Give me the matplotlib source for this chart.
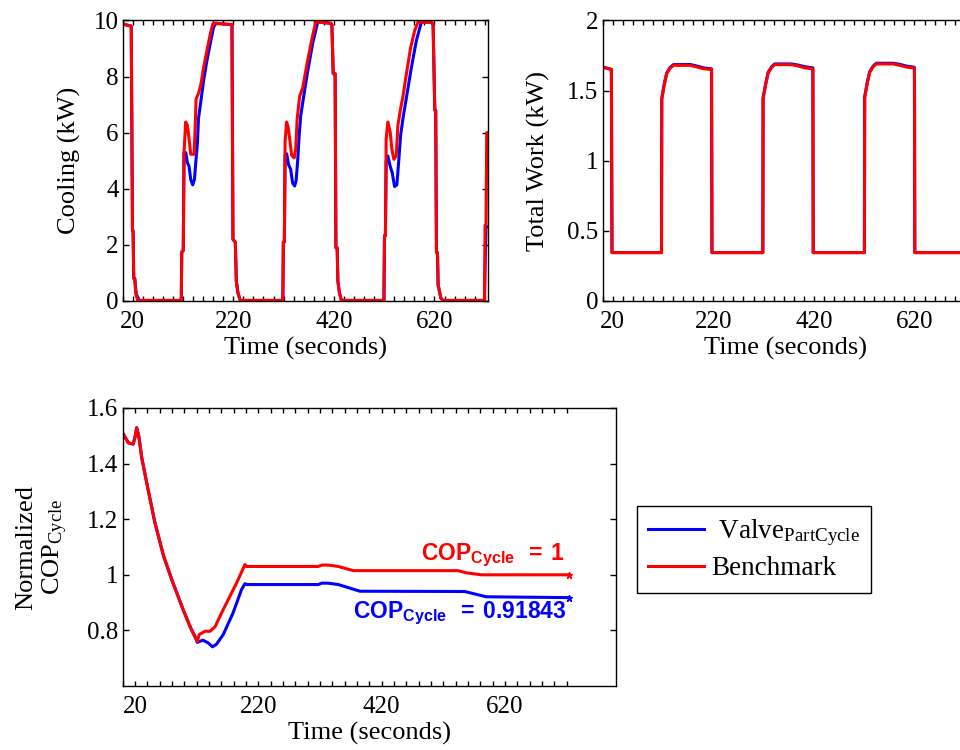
"""Cycling test: cooling, compressor work and normalized cycle COP."""

import matplotlib

matplotlib.use("Agg")
import matplotlib.pyplot as plt
from matplotlib.ticker import FixedLocator
from matplotlib.lines import Line2D

plt.rcParams["font.family"] = ["Liberation Serif", "DejaVu Serif"]
plt.rcParams["mathtext.fontset"] = "custom"
plt.rcParams["mathtext.rm"] = "Liberation Serif"
plt.rcParams["mathtext.it"] = "Liberation Serif:italic"
plt.rcParams["mathtext.bf"] = "Liberation Sans:bold"

BLUE = "#0000ff"
RED = "#ff0000"

# ---- cooling (kW), benchmark ----
cool_red_t = [0, 5, 17, 19.5, 20.7, 22, 24, 26, 30,
              116.5, 117.5, 120.5, 122, 125.3, 128.7, 132, 135.3, 142, 144, 146, 150.7, 155.3,
              160.7, 167.3, 174, 179.3, 184, 217.3, 219.3, 224, 226, 229.3, 234,
              318.5, 319.5, 321.5, 323, 326, 329, 332, 336, 341, 344, 347, 352, 358, 367, 377,
              384, 414, 416, 418.7, 422.5, 424, 426.5, 428, 431, 435,
              519.5, 520.7, 522.5, 524, 527.3, 532, 535.3, 539.3, 544, 547.3, 552.7, 557.3, 564,
              572.7, 580.7, 587.3, 614, 617.3, 620.7, 622.5, 624, 626, 627.3, 632.7, 637.3,
              719.5, 720.7, 722.5, 724, 727]
cool_red = [9.9, 9.85, 9.8, 2.5, 2.5, 0.8, 0.8, 0.25, 0.02,
            0.02, 1.75, 1.8, 5.3, 6.38, 6.26, 5.78, 5.23, 5.23, 6.1, 7.2, 7.4, 7.7,
            8.3, 8.9, 9.5, 9.88, 9.9, 9.85, 2.2, 2.1, 0.7, 0.28, 0.02,
            0.02, 2.1, 2.1, 5.7, 6.38, 6.2, 5.8, 5.2, 5.1, 5.4, 6.5, 7.3, 7.6, 8.5, 9.4,
            9.95, 9.9, 9.85, 8.1, 8.1, 1.9, 1.9, 0.7, 0.3, 0.02,
            0.02, 2.33, 2.33, 5.78, 6.38, 6.02, 5.41, 5.05, 5.17, 6.26, 6.86, 7.28, 8.07,
            9.04, 9.64, 9.94, 9.94, 9.85, 6.8, 6.8, 1.73, 1.73, 0.58, 0.1, 0.02,
            0.02, 2.7, 2.7, 6.0, 6.0]

# ---- cooling (kW), part-cycle valve ----
cool_blue_t = [0, 5, 17, 19.5, 20.7, 22, 24, 27, 33,
               116.5, 117.5, 120.5, 122, 125.3, 128.7, 132, 135.3, 139.3, 142.7, 145.3, 148.7,
               150.7, 155.3, 160.7, 167.3, 174, 180.7, 186, 217.3, 219.3, 224, 226, 229.3, 234,
               318.5, 319.5, 321.5, 323, 326, 330, 334, 338, 342, 345, 348, 351, 354, 360, 368,
               378, 388, 414, 416, 418.7, 422.5, 424, 426.5, 428, 431, 435,
               519.5, 520.7, 522.5, 524, 527.3, 532, 536, 540.7, 545.3, 548.7, 552.7, 557.3, 564,
               574, 584, 594, 614, 617.3, 620.7, 622.5, 624, 626, 627.3, 632.7, 637.3,
               719.5, 720.7, 722.5, 727]
cool_blue = [9.9, 9.85, 9.8, 2.5, 2.5, 0.8, 0.8, 0.25, 0.02,
             0.02, 1.75, 1.8, 5.29, 5.29, 4.93, 4.8, 4.33, 4.14, 4.33, 4.93, 5.65,
             6.5, 7.1, 7.83, 8.55, 9.16, 9.76, 9.9, 9.85, 2.2, 2.1, 0.7, 0.28, 0.02,
             0.02, 2.1, 2.1, 5.2, 5.25, 4.85, 4.7, 4.2, 4.1, 4.3, 5.0, 5.9, 6.6, 7.3, 8.2,
             9.2, 9.95, 9.9, 9.85, 8.1, 8.1, 1.9, 1.9, 0.7, 0.3, 0.02,
             0.02, 2.33, 2.33, 5.0, 5.17, 4.8, 4.57, 4.08, 4.14, 4.93, 5.9, 6.5, 7.22,
             8.31, 9.28, 9.94, 9.94, 9.85, 6.8, 6.8, 1.73, 1.73, 0.58, 0.1, 0.02,
             0.02, 1.2, 2.65, 2.65]

# ---- total work (kW) ----
work_t = [0, 17.3, 18.5, 117, 117.5, 122, 127.3, 134, 140.7, 174, 187.3, 200.7, 216.5, 217.3,
          318.5, 319, 324, 329, 336, 342, 376, 389, 402, 418, 418.7,
          520.5, 521, 526, 531, 538, 544, 578, 591, 604, 620, 620.7, 727]
work_red = [1.668, 1.651, 0.345, 0.345, 1.44, 1.535, 1.62, 1.66, 1.68, 1.68, 1.668, 1.656,
            1.65, 0.345, 0.345, 1.44, 1.54, 1.625, 1.665, 1.685, 1.685, 1.675, 1.662, 1.655,
            0.345, 0.345, 1.45, 1.55, 1.63, 1.67, 1.69, 1.69, 1.68, 1.668, 1.66, 0.345, 0.345]
work_blue = [1.668, 1.651, 0.345, 0.345, 1.44, 1.54, 1.625, 1.665, 1.685, 1.686, 1.675, 1.662,
             1.655, 0.345, 0.345, 1.45, 1.548, 1.63, 1.67, 1.69, 1.69, 1.682, 1.67, 1.662,
             0.345, 0.345, 1.455, 1.555, 1.635, 1.675, 1.695, 1.695, 1.687, 1.675, 1.666,
             0.345, 0.345]

# ---- normalized cycle COP ----
cop_red_t = [0, 9, 17, 20.5, 22.7, 26, 31, 40, 52, 66, 80, 98, 110, 120, 121, 124, 133.5,
             141.6, 149.7, 163, 184.8, 198.3, 201, 317, 323, 333, 349.6, 374, 544, 557.6, 582,
             723]
cop_red = [1.51, 1.475, 1.47, 1.50, 1.529, 1.50, 1.42, 1.32, 1.19, 1.07, 0.98, 0.875, 0.81,
           0.765, 0.759, 0.785, 0.797, 0.797, 0.813, 0.875, 0.971, 1.037, 1.03, 1.03, 1.035,
           1.035, 1.03, 1.015, 1.015, 1.007, 1.0, 1.0]
cop_blue_t = [0, 9, 17, 20.5, 22.7, 26, 31, 40, 52, 66, 80, 98, 110, 120, 121, 130, 138.7,
              145.6, 152, 163, 179, 192.7, 198.3, 201, 317, 323, 333, 349.6, 384.8, 554.5,
              589.6, 723]
cop_blue = [1.51, 1.475, 1.47, 1.50, 1.529, 1.50, 1.42, 1.32, 1.19, 1.07, 0.98, 0.875, 0.81,
            0.765, 0.757, 0.765, 0.755, 0.741, 0.75, 0.785, 0.863, 0.947, 0.968, 0.965, 0.965,
            0.97, 0.97, 0.965, 0.941, 0.94, 0.921, 0.918]

cop_final_red = 1
cop_final_blue = 0.91843

time_ticks = [20, 220, 420, 620]
minor_time = list(range(0, 721, 20))
LABEL_SIZE = 19
TICK_SIZE = 18


def style_axes(ax, xmax):
    ax.set_xlim(0, xmax)
    ax.set_xticks(time_ticks)
    ax.xaxis.set_minor_locator(FixedLocator(minor_time))
    ax.tick_params(axis="both", which="both", direction="in", top=True, right=True,
                   labelsize=TICK_SIZE, width=1.0, color="black")
    ax.tick_params(axis="x", which="both", length=3.5, pad=7)
    ax.tick_params(axis="y", which="major", length=4, pad=3)
    for spine in ax.spines.values():
        spine.set_linewidth(1.0)
        spine.set_color("black")


def cop_label(value):
    return "$\\mathbf{COP}_{\\mathbf{Cycle}}\\mathbf{\\ \\ =\\ %g}$" % value


fig = plt.figure(figsize=(9.6, 7.5), dpi=100)

ax1 = fig.add_axes([0.1278, 0.5987, 0.3808, 0.374])
ax1.plot(cool_blue_t, cool_blue, color=BLUE, lw=2.2)
ax1.plot(cool_red_t, cool_red, color=RED, lw=2.2)
style_axes(ax1, 727)
ax1.set_ylim(0, 10)
ax1.set_yticks([0, 2, 4, 6, 8, 10])
ax1.set_xlabel("Time (seconds)", fontsize=LABEL_SIZE)
ax1.set_ylabel("Cooling (kW)", fontsize=LABEL_SIZE)
ax1.xaxis.set_label_coords(0.5, -0.128)
ax1.yaxis.set_label_coords(-0.114, 0.5)

ax2 = fig.add_axes([0.6278, 0.5987, 0.3808, 0.374])
ax2.plot(work_t, work_blue, color=BLUE, lw=2.2)
ax2.plot(work_t, work_red, color=RED, lw=2.2)
style_axes(ax2, 727)
ax2.set_ylim(0, 2)
ax2.set_yticks([0, 0.5, 1, 1.5, 2], ["0", "0.5", "1", "1.5", "2"])
ax2.set_xlabel("Time (seconds)", fontsize=LABEL_SIZE)
ax2.set_ylabel("Total Work (kW)", fontsize=LABEL_SIZE)
ax2.xaxis.set_label_coords(0.5, -0.128)
ax2.yaxis.set_label_coords(-0.144, 0.5)

ax3 = fig.add_axes([0.1278, 0.0853, 0.5139, 0.3707])
ax3.plot(cop_blue_t, cop_blue, color=BLUE, lw=2.2)
ax3.plot(cop_red_t, cop_red, color=RED, lw=2.2)
ax3.plot(cop_blue_t[-1], cop_blue[-1], marker="*", color=BLUE, ms=5)
ax3.plot(cop_red_t[-1], cop_red[-1], marker="*", color=RED, ms=5)
style_axes(ax3, 800)
ax3.set_ylim(0.6, 1.6)
ax3.set_yticks([0.8, 1.0, 1.2, 1.4, 1.6], ["0.8", "1", "1.2", "1.4", "1.6"])
ax3.set_xlabel("Time (seconds)", fontsize=LABEL_SIZE)
ax3.set_ylabel("Normalized\nCOP$_{\\mathrm{Cycle}}$", fontsize=LABEL_SIZE)
ax3.xaxis.set_label_coords(0.5, -0.128)
ax3.yaxis.set_label_coords(-0.107, 0.5)

ax3.text(cop_red_t[-1] - 6, cop_final_red + 0.055, cop_label(cop_final_red),
         color=RED, fontsize=16.5, ha="right", va="baseline")
ax3.text(cop_blue_t[-1] - 3, cop_final_blue - 0.071, cop_label(cop_final_blue),
         color=BLUE, fontsize=16.5, ha="right", va="baseline")

handles = [Line2D([], [], color=BLUE, lw=2.2), Line2D([], [], color=RED, lw=2.2)]
leg = fig.legend(handles, [" Valve$_{\\mathrm{PartCycle}}$", "Benchmark"],
                 loc="upper left", bbox_to_anchor=(0.6632, 0.3253), borderaxespad=0,
                 fontsize=19.5, fancybox=False, framealpha=1, edgecolor="black",
                 handlelength=2.05, handletextpad=0.3, borderpad=0.42, labelspacing=0.3)
leg.get_frame().set_linewidth(1.0)

fig.savefig("out.png", dpi=100)
